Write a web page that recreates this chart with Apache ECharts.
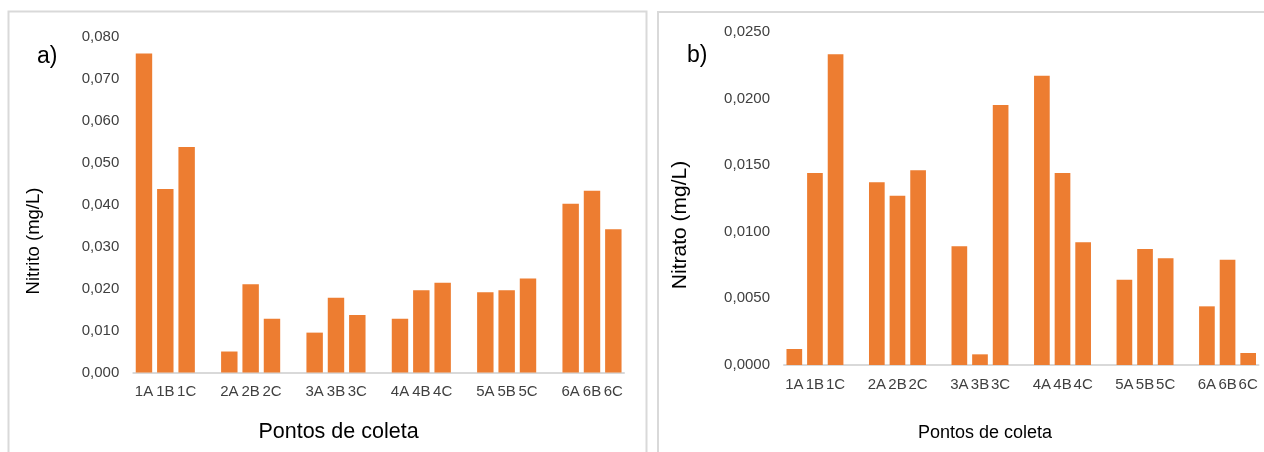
<!DOCTYPE html>
<html>
<head>
<meta charset="utf-8">
<script src="https://cdn.jsdelivr.net/npm/echarts@6/dist/echarts.min.js"></script>
<style>
html,body{margin:0;padding:0;background:#fff;}
#c{width:1264px;height:452px;}
</style>
</head>
<body>
<div id="c"></div>
<script>
// ---- data ----
const pontos = ['1A','1B','1C','2A','2B','2C','3A','3B','3C','4A','4B','4C','5A','5B','5C','6A','6B','6C'];
const nitrito = [0.0760,0.0437,0.0537, 0.0050,0.0210,0.0128, 0.0095,0.0178,0.0137, 0.0128,0.0196,0.0214, 0.0191,0.0196,0.0224, 0.0402,0.0433,0.0341];
const nitrato = [0.0012,0.0144,0.0233, 0.0137,0.0127,0.0146, 0.0089,0.0008,0.0195, 0.0217,0.0144,0.0092, 0.0064,0.0087,0.0080, 0.0044,0.0079,0.0009];
const nitritoTicks = {min:0, max:0.08, interval:0.01, decimals:3};
const nitratoTicks = {min:0, max:0.025, interval:0.005, decimals:4};

// build category slots with an empty slot between sites
function withGaps(arr, filler){
  const out=[];
  arr.forEach((v,i)=>{ out.push(v); if(i%3===2 && i<arr.length-1) out.push(filler); });
  return out;
}
const cats = withGaps(pontos, '');
const dA = withGaps(nitrito, null);
const dB = withGaps(nitrato, null);

const FONT = '"Liberation Sans", Arial, sans-serif';
const ORANGE = '#ED7D31';
const GRAY = '#D9D9D9';
const TICK = '#404040';

const chart = echarts.init(document.getElementById('c'), null, {renderer:'canvas'});

function xAxisCfg(idx){
  return {
    type:'category', gridIndex:idx, data:cats,
    axisLine:{show:true, lineStyle:{color:GRAY, width:2}},
    axisTick:{show:false},
    axisLabel:{interval:0, color:TICK, fontFamily:FONT, fontSize:15, margin:12},
    splitLine:{show:false}
  };
}
function yAxisCfg(idx, t){
  return {
    type:'value', gridIndex:idx, min:t.min, max:t.max, interval:t.interval,
    axisLine:{show:false}, axisTick:{show:false}, splitLine:{show:false},
    axisLabel:{color:TICK, fontFamily:FONT, fontSize:15, margin:14,
      formatter:v=>v.toFixed(t.decimals).replace('.',',')}
  };
}

chart.setOption({
  animation:false,
  backgroundColor:'#fff',
  grid:[
    {left:133.3, top:36.7, width:490.7, height:335.8, containLabel:false},
    {left:784, top:31.7, width:474.5, height:333.3, containLabel:false}
  ],
  xAxis:[xAxisCfg(0), xAxisCfg(1)],
  yAxis:[yAxisCfg(0, nitritoTicks), yAxisCfg(1, nitratoTicks)],
  series:[
    {type:'bar', xAxisIndex:0, yAxisIndex:0, data:dA, barCategoryGap:'23%', itemStyle:{color:ORANGE}},
    {type:'bar', xAxisIndex:1, yAxisIndex:1, data:dB, barCategoryGap:'24%', itemStyle:{color:ORANGE}}
  ],
  graphic:[
    {type:'rect', shape:{x:8.5, y:11.5, width:638, height:460}, style:{fill:'none', stroke:GRAY, lineWidth:2}, silent:true},
    {type:'rect', shape:{x:658, y:12, width:620, height:460}, style:{fill:'none', stroke:GRAY, lineWidth:2}, silent:true},
    {type:'text', x:37, y:57, style:{text:'a)', fill:'#000', font:'23px '+FONT, textVerticalAlign:'middle'}},
    {type:'text', x:687, y:56, style:{text:'b)', fill:'#000', font:'23px '+FONT, textVerticalAlign:'middle'}},
    {type:'text', x:34, y:241, rotation:Math.PI/2, style:{text:'Nitrito (mg/L)', fill:'#000', font:'18.5px '+FONT, textAlign:'center', textVerticalAlign:'middle'}},
    {type:'text', x:680, y:225, rotation:Math.PI/2, style:{text:'Nitrato (mg/L)', fill:'#000', font:'21px '+FONT, textAlign:'center', textVerticalAlign:'middle'}},
    {type:'text', x:338.5, y:432, style:{text:'Pontos de coleta', fill:'#000', font:'21.5px '+FONT, textAlign:'center', textVerticalAlign:'middle'}},
    {type:'text', x:985, y:433, style:{text:'Pontos de coleta', fill:'#000', font:'18px '+FONT, textAlign:'center', textVerticalAlign:'middle'}}
  ]
});
</script>
</body>
</html>
